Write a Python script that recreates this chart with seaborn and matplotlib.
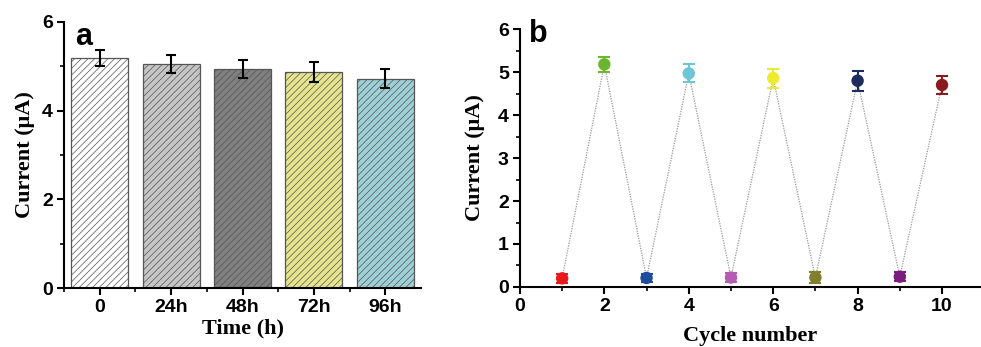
import numpy as np
import pandas as pd
import seaborn as sns
import matplotlib.pyplot as plt
from matplotlib.ticker import MultipleLocator

# panel a data
times = ["0", "24h", "48h", "72h", "96h"]
currents_a = [5.18, 5.05, 4.94, 4.87, 4.72]
errors_a = [0.18, 0.21, 0.21, 0.22, 0.22]
bar_colors = ["#ffffff", "#c6c6c6", "#808080", "#f5f27e", "#94d7e0"]

# panel b data
cycles = [1, 2, 3, 4, 5, 6, 7, 8, 9, 10]
currents_b = [0.20, 5.18, 0.21, 4.97, 0.22, 4.86, 0.22, 4.80, 0.24, 4.70]
errors_b = [0.10, 0.18, 0.10, 0.21, 0.11, 0.22, 0.12, 0.23, 0.11, 0.21]
point_colors = ["#e8191c", "#6cb52e", "#1f4d9e", "#6cc6d6", "#b65bb3",
                "#eeea2f", "#7f7f2c", "#1c2c5c", "#7c1b80", "#8a1a1e"]

sns.set_style("ticks")
plt.rcParams['font.family'] = ['Liberation Sans', 'DejaVu Sans']
plt.rcParams['font.weight'] = 'bold'
plt.rcParams['font.size'] = 14
for key in ('text.color', 'axes.labelcolor', 'xtick.color', 'ytick.color'):
    plt.rcParams[key] = 'black'
plt.rcParams['hatch.linewidth'] = 0.5
plt.rcParams['hatch.color'] = '#6a6a6a'

fig = plt.figure(figsize=(9.81, 3.47), dpi=100)
ax1 = fig.add_axes([0.0652, 0.170, 0.364, 0.767])
ax2 = fig.add_axes([0.530, 0.173, 0.469, 0.743])

label_font = dict(family='Liberation Serif', weight='bold', size=16)

# ---- panel a ----
df_a = pd.DataFrame({"time": times, "current": currents_a})
sns.barplot(data=df_a, x="time", y="current", hue="time", palette=bar_colors,
            width=0.8, edgecolor="#555555", linewidth=0.9, legend=False, ax=ax1)
for patch in ax1.patches:
    patch.set_hatch("/////")
ax1.errorbar(np.arange(len(times)), currents_a, yerr=errors_a, fmt="none",
             ecolor="black", elinewidth=1.5, capsize=3.5, capthick=1.5)
ax1.set_xlim(-0.5, 4.5)
ax1.set_ylim(0, 6)
ax1.yaxis.set_major_locator(MultipleLocator(2))
ax1.yaxis.set_minor_locator(MultipleLocator(1))
ax1.set_xticks(np.arange(len(times)))
ax1.set_xticklabels(times)
ax1.set_xticks(np.arange(len(times)) - 0.5, minor=True)
ax1.set_xlabel("Time (h)", **label_font, labelpad=2)
ax1.set_ylabel("Current (μA)", **label_font, labelpad=5)
ax1.text(0.03, 1.0, "a", transform=ax1.transAxes, fontsize=22,
         fontweight='bold', va='top', ha='left')

# ---- panel b ----
df_b = pd.DataFrame({"cycle": cycles, "current": currents_b})
sns.lineplot(data=df_b, x="cycle", y="current", color="#9a9a9a",
             linestyle=(0, (1, 1)), linewidth=0.9, ax=ax2)
for c, v, e, col in zip(cycles, currents_b, errors_b, point_colors):
    ax2.errorbar(c, v, yerr=e, fmt="none", ecolor=col, elinewidth=1.5,
                 capsize=4, capthick=1.5)
sns.scatterplot(data=df_b, x="cycle", y="current", hue="cycle",
                palette=point_colors, s=80, edgecolor="none", legend=False,
                ax=ax2, zorder=5)
ax2.set_xlim(0, 10.9)
ax2.set_ylim(0, 6)
ax2.xaxis.set_major_locator(MultipleLocator(2))
ax2.xaxis.set_minor_locator(MultipleLocator(1))
ax2.yaxis.set_major_locator(MultipleLocator(1))
ax2.yaxis.set_minor_locator(MultipleLocator(0.5))
ax2.set_xlabel("Cycle number", **label_font, labelpad=8)
ax2.set_ylabel("Current (μA)", **label_font, labelpad=9)
ax2.text(0.02, 1.04, "b", transform=ax2.transAxes, fontsize=22,
         fontweight='bold', va='top', ha='left')

for ax in (ax1, ax2):
    sns.despine(ax=ax)
    for side in ("left", "bottom"):
        ax.spines[side].set_linewidth(1.5)
        ax.spines[side].set_color("black")
    ax.tick_params(which='major', direction='out', length=5, width=1.5,
                   color='black', pad=3, labelsize=14)
    ax.tick_params(which='minor', direction='out', length=3, width=1.2,
                   color='black')

fig.savefig("out.png", dpi=100)
